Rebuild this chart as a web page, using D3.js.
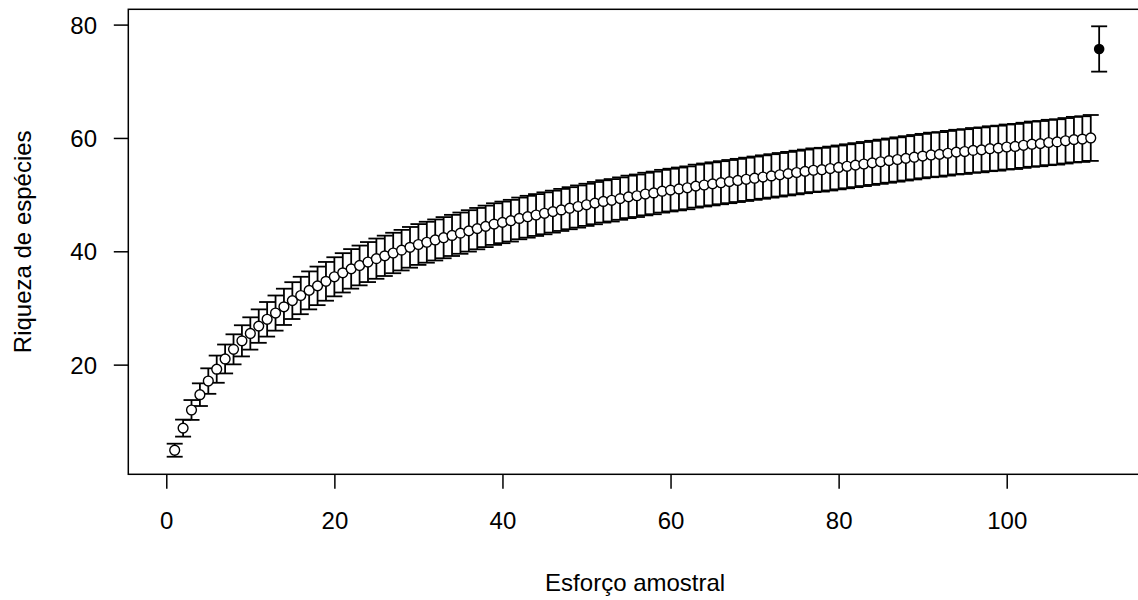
<!DOCTYPE html>
<html>
<head>
<meta charset="utf-8">
<script src="https://cdn.jsdelivr.net/npm/d3@7"></script>
<style>
  html, body { margin: 0; padding: 0; background: #fff; }
  svg text { font-family: "Liberation Sans", Arial, sans-serif; fill: #000; }
</style>
</head>
<body>
<svg id="chart" width="1138" height="600"></svg>
<script>
// ---- Data ----
// mean species richness for sample sizes 1..110
const riqueza = [
  4.9, 8.8, 12.0, 14.7, 17.1, 19.2, 21.0, 22.7, 24.2, 25.5,
  26.8, 28.0, 29.1, 30.2, 31.3, 32.2, 33.1, 33.9, 34.7, 35.5,
  36.2, 36.9, 37.5, 38.1, 38.7, 39.2, 39.7, 40.2, 40.7, 41.2,
  41.6, 42.0, 42.4, 42.8, 43.2, 43.6, 44.0, 44.4, 44.8, 45.1,
  45.4, 45.8, 46.1, 46.4, 46.7, 47.0, 47.3, 47.6, 47.9, 48.2,
  48.5, 48.8, 49.0, 49.3, 49.6, 49.8, 50.1, 50.3, 50.6, 50.8,
  51.0, 51.2, 51.5, 51.7, 51.9, 52.1, 52.3, 52.5, 52.7, 52.9,
  53.1, 53.3, 53.5, 53.7, 53.9, 54.1, 54.3, 54.4, 54.6, 54.8,
  55.0, 55.2, 55.4, 55.6, 55.8, 56.0, 56.2, 56.4, 56.6, 56.8,
  57.0, 57.1, 57.3, 57.5, 57.6, 57.8, 57.9, 58.1, 58.2, 58.4,
  58.5, 58.7, 58.9, 59.0, 59.2, 59.3, 59.5, 59.7, 59.8, 60.0
];
// half-length of each error bar
const desvio = [
  1.15, 1.5, 1.75, 2.0, 2.25, 2.4, 2.55, 2.65, 2.75, 2.85,
  2.95, 3.05, 3.1, 3.2, 3.25, 3.3, 3.35, 3.4, 3.42, 3.45,
  3.47, 3.49, 3.51, 3.53, 3.55, 3.56, 3.57, 3.58, 3.59, 3.6,
  3.61, 3.62, 3.63, 3.63, 3.64, 3.65, 3.65, 3.66, 3.67, 3.67,
  3.68, 3.68, 3.69, 3.69, 3.7, 3.7, 3.71, 3.71, 3.72, 3.72,
  3.73, 3.73, 3.74, 3.74, 3.75, 3.75, 3.76, 3.76, 3.77, 3.77,
  3.78, 3.78, 3.79, 3.79, 3.8, 3.8, 3.81, 3.81, 3.82, 3.82,
  3.83, 3.83, 3.84, 3.84, 3.85, 3.85, 3.86, 3.86, 3.87, 3.87,
  3.88, 3.88, 3.89, 3.89, 3.9, 3.9, 3.91, 3.91, 3.92, 3.92,
  3.93, 3.93, 3.94, 3.94, 3.95, 3.95, 3.96, 3.96, 3.97, 3.97,
  3.98, 3.98, 3.99, 3.99, 4.0, 4.0, 4.01, 4.02, 4.03, 4.05
];
// estimated total richness (filled point)
const estimativa = { x: 111, y: 75.7, sd: 4.0 };

const xTicks = [0, 20, 40, 60, 80, 100];
const yTicks = [20, 40, 60, 80];

// ---- Layout ----
const svg = d3.select("#chart");
const plotL = 128.3, plotR = 1140, plotT = 9.3, plotB = 474.3;

const x = d3.scaleLinear().domain([-4.52, 115.86]).range([plotL, plotR]);
const y = d3.scaleLinear().domain([0.65, 82.7]).range([plotB, plotT]);

const pontos = riqueza.map((v, i) => ({ x: i + 1, y: v, sd: desvio[i] }));
const cap = 8;
const lw = 1.5;

// plot box
svg.append("rect")
  .attr("x", plotL).attr("y", plotT)
  .attr("width", plotR - plotL).attr("height", plotB - plotT)
  .attr("fill", "none").attr("stroke", "#000").attr("stroke-width", lw);

// axes
const xAxis = svg.append("g")
  .attr("transform", `translate(0,${plotB})`)
  .call(d3.axisBottom(x).tickValues(xTicks).tickSize(14.5).tickPadding(0).tickFormat(d3.format("d")));
xAxis.select(".domain").remove();
xAxis.selectAll("line").attr("stroke", "#000").attr("stroke-width", lw);
xAxis.selectAll("text")
  .attr("y", 55).attr("dy", null)
  .attr("font-size", 24);

const yAxis = svg.append("g")
  .attr("transform", `translate(${plotL},0)`)
  .call(d3.axisLeft(y).tickValues(yTicks).tickSize(14.5).tickFormat(d3.format("d")));
yAxis.select(".domain").remove();
yAxis.selectAll("line").attr("stroke", "#000").attr("stroke-width", lw);
yAxis.selectAll("text")
  .attr("x", 97 - plotL).attr("dy", "0.35em")
  .attr("text-anchor", "end")
  .attr("font-size", 24);

// error bars
const barras = svg.append("g").attr("stroke", "#000").attr("stroke-width", 1.8).attr("fill", "none");
function desenhaBarra(d) {
  const cx = x(d.x), y0 = y(d.y - d.sd), y1 = y(d.y + d.sd);
  barras.append("line").attr("x1", cx).attr("x2", cx).attr("y1", y0).attr("y2", y1);
  barras.append("line").attr("x1", cx - cap).attr("x2", cx + cap).attr("y1", y0).attr("y2", y0);
  barras.append("line").attr("x1", cx - cap).attr("x2", cx + cap).attr("y1", y1).attr("y2", y1);
}
pontos.forEach(desenhaBarra);
desenhaBarra(estimativa);

// open points
svg.append("g").selectAll("circle")
  .data(pontos)
  .join("circle")
  .attr("cx", d => x(d.x))
  .attr("cy", d => y(d.y))
  .attr("r", 4.9)
  .attr("fill", "#fff")
  .attr("stroke", "#000")
  .attr("stroke-width", 1.4);

// filled point
svg.append("circle")
  .attr("cx", x(estimativa.x))
  .attr("cy", y(estimativa.y))
  .attr("r", 5.3)
  .attr("fill", "#000");

// axis titles
svg.append("text")
  .attr("x", (plotL + plotR) / 2 + 1)
  .attr("y", 591)
  .attr("text-anchor", "middle")
  .attr("font-size", 24)
  .text("Esforço amostral");

svg.append("text")
  .attr("transform", `translate(31,${(plotT + plotB) / 2}) rotate(-90)`)
  .attr("text-anchor", "middle")
  .attr("font-size", 24)
  .text("Riqueza de espécies");
</script>
</body>
</html>
